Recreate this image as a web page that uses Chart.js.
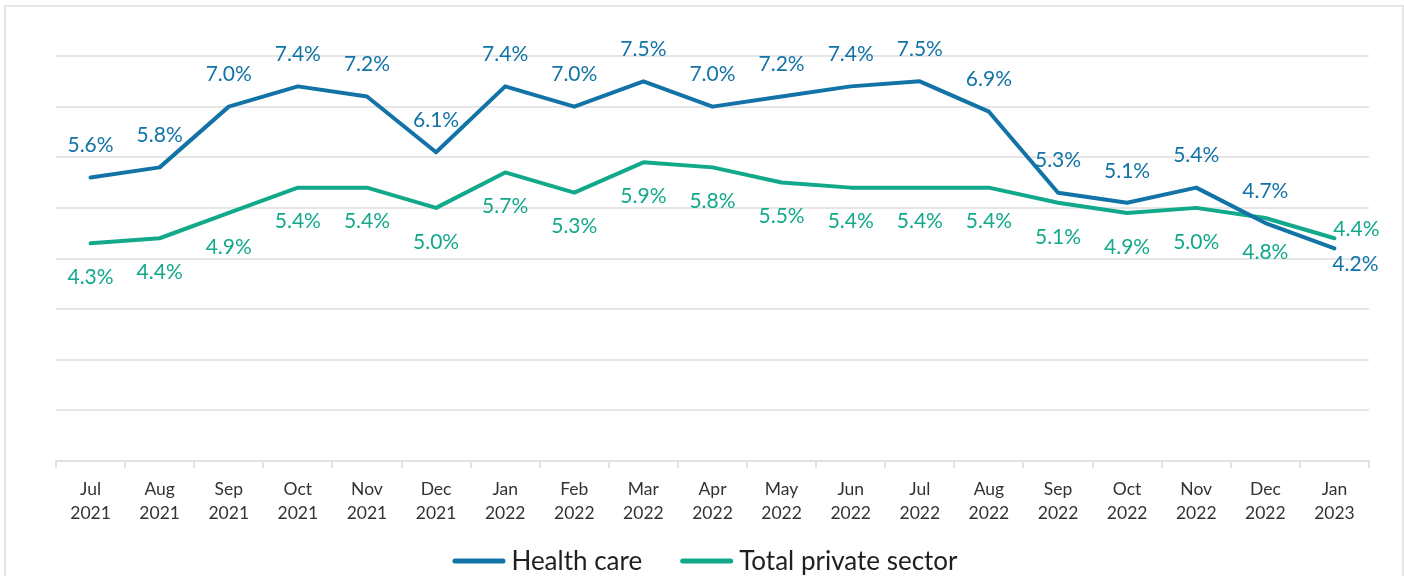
<!DOCTYPE html>
<html>
<head>
<meta charset="utf-8">
<script src="https://cdn.jsdelivr.net/npm/chart.js@4.4.1/dist/chart.umd.min.js"></script>
<style>
  html, body { margin: 0; padding: 0; background: #fff; width: 1404px; height: 576px; overflow: hidden; }
  #frame { position: absolute; left: 4px; top: 5px; width: 1400px; height: 700px; border: 2px solid #e6e6e6; box-sizing: border-box; }
  #wrap { position: absolute; left: 0; top: 0; width: 1404px; height: 576px; }
</style>
</head>
<body>
<div id="frame"></div>
<div id="wrap"><canvas id="c" width="1404" height="576"></canvas></div>
<script>
const categories = [
  ["Jul","2021"],["Aug","2021"],["Sep","2021"],["Oct","2021"],["Nov","2021"],["Dec","2021"],
  ["Jan","2022"],["Feb","2022"],["Mar","2022"],["Apr","2022"],["May","2022"],["Jun","2022"],
  ["Jul","2022"],["Aug","2022"],["Sep","2022"],["Oct","2022"],["Nov","2022"],["Dec","2022"],
  ["Jan","2023"]
];
const healthCare = [5.6,5.8,7.0,7.4,7.2,6.1,7.4,7.0,7.5,7.0,7.2,7.4,7.5,6.9,5.3,5.1,5.4,4.7,4.2];
const totalPrivate = [4.3,4.4,4.9,5.4,5.4,5.0,5.7,5.3,5.9,5.8,5.5,5.4,5.4,5.4,5.1,4.9,5.0,4.8,4.4];
const seriesNames = ["Health care", "Total private sector"];

const BLUE = "#1273a7";
const GREEN = "#12a98b";
const FONT = 'Lato, "Open Sans", sans-serif';

const labelPlugin = {
  id: 'valueLabels',
  afterDatasetsDraw(chart) {
    const ctx = chart.ctx;
    ctx.save();
    ctx.font = '21px ' + FONT;
    ctx.textAlign = 'center';
    ctx.textBaseline = 'middle';
    chart.data.datasets.forEach((ds, di) => {
      const meta = chart.getDatasetMeta(di);
      const last = ds.data.length - 1;
      meta.data.forEach((pt, i) => {
        let dx = 0, dy;
        if (di === 0) {
          dy = -32;
          if (i === last) { dx = 21; dy = 16; }
        } else {
          dy = 34;
          if (i === last) { dx = 22; dy = -9; }
        }
        ctx.fillStyle = ds.borderColor;
        ctx.fillText(ds.data[i].toFixed(1) + '%', pt.x + dx, pt.y + dy);
      });
    });
    ctx.restore();
  }
};

const legendPlugin = {
  id: 'customLegend',
  afterDraw(chart) {
    const ctx = chart.ctx;
    ctx.save();
    ctx.font = '26px ' + FONT;
    ctx.textBaseline = 'middle';
    const boxW = 53, gap = 6, itemGap = 38, cy = 561;
    const items = chart.data.datasets.map(ds => ({ text: ds.label, color: ds.borderColor, w: ctx.measureText(ds.label).width }));
    let total = items.reduce((s, it) => s + boxW + gap + it.w, 0) + itemGap * (items.length - 1);
    let x = 705 - total / 2;
    items.forEach(it => {
      ctx.strokeStyle = it.color;
      ctx.lineWidth = 5;
      ctx.lineCap = 'round';
      ctx.beginPath();
      ctx.moveTo(x + 2.5, cy);
      ctx.lineTo(x + boxW - 2.5, cy);
      ctx.stroke();
      ctx.fillStyle = '#1f1f1f';
      ctx.textAlign = 'left';
      ctx.fillText(it.text, x + boxW + gap, cy + 1);
      x += boxW + gap + it.w + itemGap;
    });
    ctx.restore();
  }
};

new Chart(document.getElementById('c'), {
  type: 'line',
  data: {
    labels: categories,
    datasets: [
      { label: seriesNames[0], data: healthCare, borderColor: BLUE, backgroundColor: BLUE,
        borderWidth: 4, pointRadius: 0, tension: 0, borderCapStyle: 'round', borderJoinStyle: 'round' },
      { label: seriesNames[1], data: totalPrivate, borderColor: GREEN, backgroundColor: GREEN,
        borderWidth: 4, pointRadius: 0, tension: 0, borderCapStyle: 'round', borderJoinStyle: 'round' }
    ]
  },
  options: {
    responsive: false,
    animation: false,
    events: [],
    layout: { padding: { left: 56, right: 35, top: 56, bottom: 28 } },
    plugins: {
      legend: { display: false },
      tooltip: { enabled: false }
    },
    scales: {
      x: {
        offset: true,
        afterFit(scale) { scale.height = 87; },
        grid: { display: true, offset: true, drawOnChartArea: false, color: '#e2e2e2', lineWidth: 2, tickLength: 7 },
        border: { display: true, color: '#e2e2e2', width: 2 },
        ticks: { color: '#333', font: { size: 17.5, family: FONT, lineHeight: 1.37 }, padding: 9, maxRotation: 0, autoSkip: false }
      },
      y: {
        min: 0, max: 8,
        ticks: { display: false, stepSize: 1 },
        grid: { color: '#e6e6e6', lineWidth: 2, drawTicks: false },
        border: { display: false }
      }
    }
  },
  plugins: [labelPlugin, legendPlugin]
});
</script>
</body>
</html>
